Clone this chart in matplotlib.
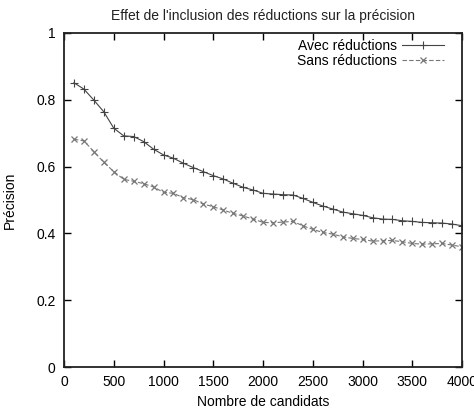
import numpy as np
import matplotlib
matplotlib.use('Agg')
import matplotlib.pyplot as plt

plt.rcParams['font.family'] = ['Liberation Sans', 'DejaVu Sans']

# candidats (100 .. 4000)
candidats = list(range(100, 4001, 100))

avec = [0.851, 0.832, 0.799, 0.764, 0.715, 0.692, 0.690, 0.675, 0.652, 0.635,
        0.625, 0.610, 0.597, 0.585, 0.573, 0.563, 0.550, 0.538, 0.530, 0.520,
        0.518, 0.516, 0.515, 0.505, 0.493, 0.482, 0.473, 0.464, 0.459, 0.454,
        0.447, 0.443, 0.442, 0.438, 0.436, 0.433, 0.432, 0.431, 0.428, 0.423]

sans = [0.682, 0.677, 0.645, 0.613, 0.585, 0.562, 0.556, 0.549, 0.539, 0.523,
        0.520, 0.507, 0.501, 0.488, 0.480, 0.470, 0.460, 0.452, 0.443, 0.433,
        0.432, 0.434, 0.436, 0.423, 0.412, 0.403, 0.398, 0.390, 0.385, 0.382,
        0.377, 0.378, 0.379, 0.375, 0.370, 0.368, 0.369, 0.370, 0.365, 0.360]

xticks = [0, 500, 1000, 1500, 2000, 2500, 3000, 3500, 4000]
yticks = [0, 0.2, 0.4, 0.6, 0.8, 1]
ylabels = ['0', '0.2', '0.4', '0.6', '0.8', '1']

fig = plt.figure(figsize=(4.74, 4.12), dpi=100)
ax = fig.add_axes([0.135, 0.109, 0.84, 0.811])

ax.plot(candidats, avec, color='#444444', lw=0.8, marker='+', ms=6, mew=0.8,
        label='Avec réductions')
ax.plot(candidats, sans, color='#777777', lw=0.8, ls=(0, (4, 2)), marker='x',
        ms=5, mew=0.9, label='Sans réductions')

ax.set_xlim(0, 4000)
ax.set_ylim(0, 1)
ax.set_xticks(xticks)
ax.set_yticks(yticks)
ax.set_yticklabels(ylabels)
ax.tick_params(direction='in', top=True, right=True, labelsize=10, length=5,
               width=1, pad=6)
for s in ax.spines.values():
    s.set_linewidth(1.3)
    s.set_color('#222222')

ax.set_title("Effet de l'inclusion des réductions sur la précision",
             fontsize=10, pad=9, color='#222222')
ax.set_xlabel('Nombre de candidats', fontsize=10, labelpad=4)
ax.set_ylabel('Précision', fontsize=10, labelpad=14)

ax.legend(loc='upper right', bbox_to_anchor=(0.97, 1.0), frameon=False,
          markerfirst=False, fontsize=10, handlelength=3.0,
          borderaxespad=0.25, labelspacing=0.05, handletextpad=0.4,
          borderpad=0.2)

fig.savefig('out.png', dpi=100)
